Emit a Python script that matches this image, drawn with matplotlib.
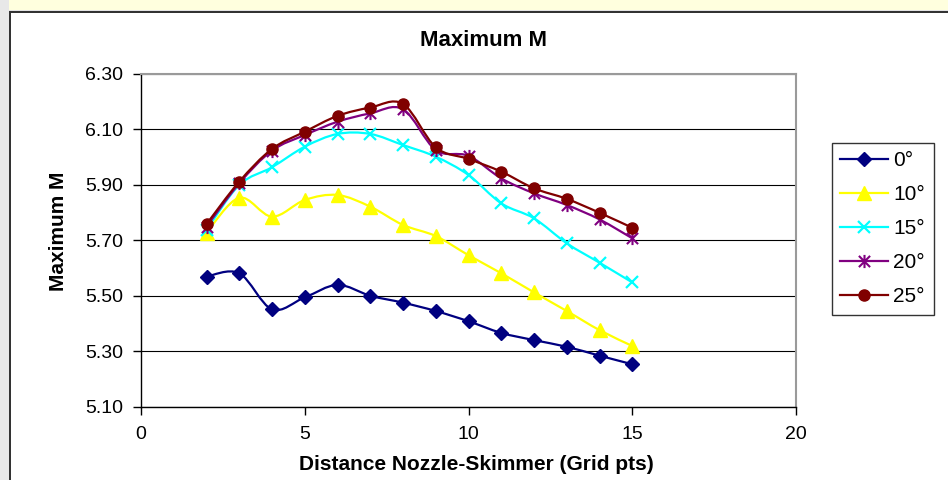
import matplotlib
matplotlib.use("Agg")
import matplotlib.pyplot as plt
import numpy as np
from matplotlib.lines import Line2D
from matplotlib.patches import PathPatch, Rectangle
from matplotlib.path import Path

plt.rcParams["font.family"] = ["Liberation Sans", "DejaVu Sans"]

# values
distance = [2, 3, 4, 5, 6, 7, 8, 9, 10, 11, 12, 13, 14, 15]
m_0 = [5.570, 5.582, 5.452, 5.495, 5.540, 5.501, 5.476, 5.446, 5.409, 5.367, 5.341, 5.317, 5.285, 5.254]
m_10 = [5.728, 5.854, 5.786, 5.846, 5.864, 5.822, 5.756, 5.716, 5.647, 5.582, 5.513, 5.446, 5.377, 5.320]
m_15 = [5.738, 5.900, 5.964, 6.038, 6.084, 6.084, 6.044, 6.002, 5.936, 5.834, 5.780, 5.690, 5.620, 5.549]
m_20 = [5.750, 5.906, 6.024, 6.080, 6.128, 6.158, 6.173, 6.026, 6.005, 5.924, 5.870, 5.828, 5.776, 5.708]
m_25 = [5.759, 5.912, 6.030, 6.092, 6.149, 6.179, 6.192, 6.036, 5.994, 5.948, 5.888, 5.850, 5.800, 5.746]
labels = ["0°", "10°", "15°", "20°", "25°"]
x_ticks = [0, 5, 10, 15, 20]
y_ticks = [5.10, 5.30, 5.50, 5.70, 5.90, 6.10, 6.30]

W, H = 948, 480

# Excel style star: an x with a vertical bar through it
star = Path(
    [(0, -1), (0, 1), (-0.85, -0.85), (0.85, 0.85), (-0.85, 0.85), (0.85, -0.85)],
    [Path.MOVETO, Path.LINETO] * 3,
)

styles = [
    dict(color="#000080", marker="D", ms=7.5, mew=1.0),
    dict(color="#FFFF00", marker="^", ms=9.5, mew=1.0),
    dict(color="#00FFFF", marker="x", ms=8.5, mew=1.6),
    dict(color="#800080", marker=star, ms=9.5, mew=1.5),
    dict(color="#800000", marker="o", ms=8.0, mew=1.0),
]


def smooth_path(xs, ys):
    # Catmull-Rom style bezier through the points, like Excel's smoothed line
    pts = np.column_stack([xs, ys]).astype(float)
    verts = [pts[0]]
    codes = [Path.MOVETO]
    n = len(pts)
    for i in range(n - 1):
        p0 = pts[i - 1] if i > 0 else pts[i]
        p1 = pts[i]
        p2 = pts[i + 1]
        p3 = pts[i + 2] if i + 2 < n else pts[i + 1]
        verts += [p1 + (p2 - p0) / 6.0, p2 - (p3 - p1) / 6.0, p2]
        codes += [Path.CURVE4] * 3
    return Path(verts, codes)


def px(x, y):
    return x / W, 1 - y / H


fig = plt.figure(figsize=(W / 100, H / 100), dpi=100, facecolor="white")

# window chrome around the chart
fig.add_artist(Rectangle(px(0, 10), 1, 10 / H, transform=fig.transFigure, facecolor="#FFFFDE", edgecolor="none"))
fig.add_artist(Rectangle(px(0, 11.5), 1, 2 / H, transform=fig.transFigure, facecolor="#E4E4E4", edgecolor="none"))
fig.add_artist(Rectangle(px(0, H), 9 / W, 1, transform=fig.transFigure, facecolor="#E8E8E8", edgecolor="none"))
fig.add_artist(Rectangle(px(9, H), 2 / W, (H - 12) / H, transform=fig.transFigure, facecolor="#333333", edgecolor="none"))
fig.add_artist(Rectangle(px(9, 13), 1, 2 / H, transform=fig.transFigure, facecolor="#333333", edgecolor="none"))

left, right, top, bottom = 141, 796, 74, 407
ax = fig.add_axes([left / W, 1 - bottom / H, (right - left) / W, (bottom - top) / H])

series = [m_0, m_10, m_15, m_20, m_25]
handles = []
for k, (vals, st) in enumerate(zip(series, styles)):
    ax.add_patch(PathPatch(smooth_path(distance, vals), fill=False, edgecolor=st["color"],
                           linewidth=1.6, zorder=3 + k))
    ax.plot(distance, vals, linestyle="none", marker=st["marker"], markersize=st["ms"],
            markerfacecolor=st["color"], markeredgecolor=st["color"], markeredgewidth=st["mew"],
            zorder=3 + k)
    handles.append(Line2D([], [], color=st["color"], linewidth=1.6, marker=st["marker"],
                          markersize=st["ms"], markerfacecolor=st["color"],
                          markeredgecolor=st["color"], markeredgewidth=st["mew"]))

ax.set_xlim(0, 20)
ax.set_ylim(5.10, 6.30)
ax.set_xticks(x_ticks)
ax.set_yticks(y_ticks)
ax.set_yticklabels([f"{v:.2f}" for v in y_ticks])
ax.tick_params(axis="both", direction="out", length=6, width=1, color="black",
               labelsize=14, pad=5)
ax.tick_params(axis="x", pad=8)
ax.tick_params(axis="y", pad=7)
ax.yaxis.grid(True, color="#000000", linewidth=0.8)
ax.set_axisbelow(True)
for side in ("left", "bottom"):
    ax.spines[side].set_color("black")
    ax.spines[side].set_linewidth(1.0)
for side in ("top", "right"):
    ax.spines[side].set_color("#9A9A9A")
    ax.spines[side].set_linewidth(1.5)

fig.text(*px(484, 41), "Maximum M", ha="center", va="center", fontsize=16, fontweight="bold")
fig.text(*px(476, 464), "Distance Nozzle-Skimmer (Grid pts)", ha="center", va="center",
         fontsize=15, fontweight="bold")
fig.text(*px(58, 231), "Maximum M", ha="center", va="center", rotation=90,
         fontsize=15, fontweight="bold")

leg = fig.legend(handles, labels, loc="upper left", bbox_to_anchor=px(832, 143),
                 bbox_transform=fig.transFigure, borderaxespad=0, frameon=True,
                 fancybox=False, edgecolor="black", fontsize=15, handlelength=2.3,
                 handletextpad=0.25, borderpad=0.4, labelspacing=0.72)
leg.get_frame().set_linewidth(1.0)

fig.savefig("out.png", dpi=100, facecolor="white")
